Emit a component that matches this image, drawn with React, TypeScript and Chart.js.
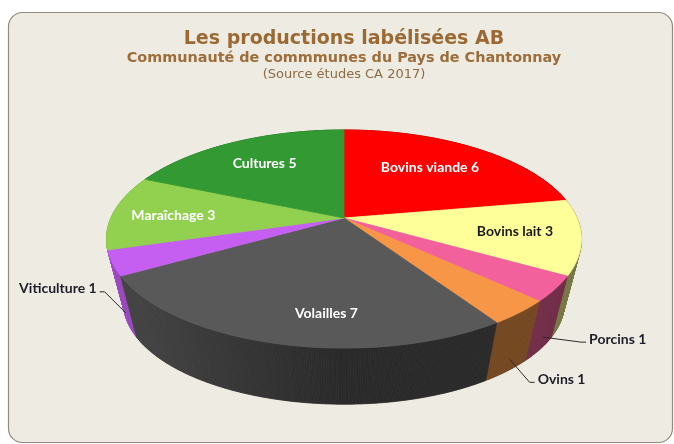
import { useEffect, useRef } from "react";
import { Chart, registerables } from "chart.js";

Chart.register(...registerables);

// ---- Data ----
const CATEGORIES = ["Bovins viande", "Bovins lait", "Porcins", "Ovins", "Volailles", "Viticulture", "Maraîchage", "Cultures"];
const VALUES = [6, 3, 1, 1, 7, 1, 3, 5];
const COLORS = ["#ff0000", "#ffff99", "#f2619c", "#f79646", "#595959", "#c55ff2", "#92d050", "#339933"];

const TITLE = "Les productions labélisées AB";
const SUBTITLE = "Communauté de commmunes du Pays de Chantonnay";
const SOURCE = "(Source études CA 2017)";

// ---- Layout / style constants ----
const W = 674;
const H = 444;
const PROJ = { kx: 1.069, ky: 0.4817, persp: 0.193, vanish: 4.17, depth: 0.072 };
const LABEL_RADIUS = 0.72;
const LABEL_NUDGE: [number, number][] = [[-8, 0], [0, 0], [0, 0], [0, 0], [30, 5], [0, 0], [-5, 2], [0, 0]];
const LEADER_OFFSET: [number, number][] = [[0, 0], [0, 0], [38, 5], [20, 23], [0, 0], [-21, -21], [0, 0], [0, 0]];
const OUTSIDE_SHARE = 0.05;

function hexToRgb(hex: string): [number, number, number] {
  const h = hex.replace("#", "");
  return [parseInt(h.slice(0, 2), 16), parseInt(h.slice(2, 4), 16), parseInt(h.slice(4, 6), 16)];
}
function shade(hex: string, f: number) {
  const [r, g, b] = hexToRgb(hex);
  return `rgb(${Math.round(r * f)},${Math.round(g * f)},${Math.round(b * f)})`;
}
function isLight(hex: string) {
  const [r, g, b] = hexToRgb(hex);
  return 0.299 * r + 0.587 * g + 0.114 * b > 180;
}

const pie3d = {
  id: "pie3d",
  beforeDraw(chart: any) {
    const ctx = chart.ctx as CanvasRenderingContext2D;
    ctx.save();
    ctx.fillStyle = "#ffffff";
    ctx.fillRect(0, 0, W, H);
    const x0 = 8.5, y0 = 12.5, x1 = 672.5, y1 = 442.5, r = 14;
    ctx.beginPath();
    ctx.moveTo(x0 + r, y0);
    ctx.lineTo(x1 - r, y0);
    ctx.arcTo(x1, y0, x1, y0 + r, r);
    ctx.lineTo(x1, y1 - r);
    ctx.arcTo(x1, y1, x1 - r, y1, r);
    ctx.lineTo(x0 + r, y1);
    ctx.arcTo(x0, y1, x0, y1 - r, r);
    ctx.lineTo(x0, y0 + r);
    ctx.arcTo(x0, y0, x0 + r, y0, r);
    ctx.closePath();
    ctx.fillStyle = "#eeebe2";
    ctx.fill();
    ctx.strokeStyle = "#948a7c";
    ctx.lineWidth = 1.2;
    ctx.stroke();
    ctx.restore();
  },
  beforeDatasetsDraw(chart: any) {
    const ctx = chart.ctx as CanvasRenderingContext2D;
    const meta = chart.getDatasetMeta(0);
    const arcs = meta.data as any[];
    if (!arcs.length) return false;
    const cx = arcs[0].x;
    const cy = arcs[0].y;
    const R = arcs[0].outerRadius;
    const A = R * PROJ.kx;
    const B = R * PROJ.ky;
    const p = PROJ.persp;
    const vx = cx;
    const vy = cy + PROJ.vanish * R;
    const t = PROJ.depth;

    const top = (a: number, f = 1): [number, number] => {
      const u = Math.cos(a), v = Math.sin(a);
      const s = 1 / (1 - p * v);
      return [cx + A * u * s * f, cy + B * v * s * f];
    };
    const bottom = (a: number): [number, number] => {
      const [x, y] = top(a);
      return [vx + (x - vx) * (1 - t), vy + (y - vy) * (1 - t)];
    };

    const step = Math.PI / 360;
    // walls
    const pieces: { a1: number; a2: number; i: number }[] = [];
    arcs.forEach((arc: any, i: number) => {
      const s0 = arc.startAngle, e0 = arc.endAngle;
      const n = Math.max(1, Math.ceil((e0 - s0) / step));
      for (let k = 0; k < n; k++) {
        pieces.push({ a1: s0 + ((e0 - s0) * k) / n, a2: s0 + ((e0 - s0) * (k + 1)) / n, i });
      }
    });
    pieces.sort((a, b) => Math.sin((a.a1 + a.a2) / 2) - Math.sin((b.a1 + b.a2) / 2));
    ctx.save();
    for (const pc of pieces) {
      const m = (pc.a1 + pc.a2) / 2;
      const u = Math.cos(m);
      const f = 0.47 + 0.35 * Math.max(0, -u);
      const col = shade(COLORS[pc.i], f);
      const p1 = top(pc.a1), p2 = top(pc.a2), q2 = bottom(pc.a2), q1 = bottom(pc.a1);
      ctx.beginPath();
      ctx.moveTo(p1[0], p1[1]);
      ctx.lineTo(p2[0], p2[1]);
      ctx.lineTo(q2[0], q2[1]);
      ctx.lineTo(q1[0], q1[1]);
      ctx.closePath();
      ctx.fillStyle = col;
      ctx.strokeStyle = col;
      ctx.lineWidth = 0.8;
      ctx.fill();
      ctx.stroke();
    }
    // top faces
    arcs.forEach((arc: any, i: number) => {
      const s0 = arc.startAngle, e0 = arc.endAngle;
      const n = Math.max(2, Math.ceil((e0 - s0) / step));
      ctx.beginPath();
      ctx.moveTo(cx, cy);
      for (let k = 0; k <= n; k++) {
        const [x, y] = top(s0 + ((e0 - s0) * k) / n);
        ctx.lineTo(x, y);
      }
      ctx.closePath();
      ctx.fillStyle = COLORS[i];
      ctx.strokeStyle = COLORS[i];
      ctx.lineWidth = 0.8;
      ctx.lineJoin = "round";
      ctx.fill();
      ctx.stroke();
    });

    // labels
    const total = VALUES.reduce((s, v) => s + v, 0);
    ctx.font = "bold 14px Lato, 'Open Sans', sans-serif";
    ctx.textBaseline = "middle";
    arcs.forEach((arc: any, i: number) => {
      const mid = (arc.startAngle + arc.endAngle) / 2;
      const text = `${CATEGORIES[i]} ${VALUES[i]}`;
      if (VALUES[i] / total < OUTSIDE_SHARE) {
        const tp = top(mid);
        const bp = bottom(mid);
        const ax = tp[0] + (bp[0] - tp[0]) * 0.8;
        const ay = tp[1] + (bp[1] - tp[1]) * 0.8;
        const [dx, dy] = LEADER_OFFSET[i];
        const ex = ax + dx, ey = ay + dy;
        const dir = dx >= 0 ? 1 : -1;
        const hx = ex + dir * 5;
        ctx.beginPath();
        ctx.moveTo(ax, ay);
        ctx.lineTo(ex, ey);
        ctx.lineTo(hx, ey);
        ctx.strokeStyle = "#2b2b2b";
        ctx.lineWidth = 1;
        ctx.stroke();
        ctx.fillStyle = "#1e1e2a";
        ctx.textAlign = dir > 0 ? "left" : "right";
        ctx.fillText(text, hx + dir * 3, ey - 3);
      } else {
        const [rx, ry] = top(mid);
        const lx = cx + (rx - cx) * LABEL_RADIUS + LABEL_NUDGE[i][0];
        const ly = cy + (ry - cy) * LABEL_RADIUS + LABEL_NUDGE[i][1];
        ctx.fillStyle = isLight(COLORS[i]) ? "#1a1a1a" : "#ffffff";
        ctx.textAlign = "center";
        ctx.fillText(text, lx, ly);
      }
    });
    ctx.restore();
    return false;
  },
  afterDraw(chart: any) {
    const ctx = chart.ctx as CanvasRenderingContext2D;
    ctx.save();
    ctx.textAlign = "center";
    ctx.textBaseline = "middle";
    ctx.fillStyle = "#9a6934";
    ctx.font = "bold 19px 'DejaVu Sans', sans-serif";
    ctx.fillText(TITLE, 344, 39);
    ctx.fillStyle = "#9d6d3a";
    ctx.font = "bold 14.4px 'DejaVu Sans', sans-serif";
    ctx.fillText(SUBTITLE, 344, 58);
    ctx.fillStyle = "#8f6a42";
    ctx.font = "13px 'DejaVu Sans', sans-serif";
    ctx.fillText(SOURCE, 344, 75);
    ctx.restore();
  },
};

export default function App() {
  const ref = useRef<HTMLCanvasElement | null>(null);
  useEffect(() => {
    if (!ref.current) return;
    const chart = new Chart(ref.current, {
      type: "pie",
      data: {
        labels: CATEGORIES,
        datasets: [{ data: VALUES, backgroundColor: COLORS, borderWidth: 0 }],
      },
      options: {
        animation: false,
        responsive: false,
        events: [],
        layout: { padding: { left: 14, right: 0, top: 0, bottom: 8 } },
        plugins: {
          legend: { display: false },
          tooltip: { enabled: false },
          title: { display: false },
        },
      },
      plugins: [pie3d as any],
    });
    return () => chart.destroy();
  }, []);
  return (
    <div style={{ position: "absolute", left: 0, top: 0, width: W, height: H, background: "#ffffff" }}>
      <canvas ref={ref} width={W} height={H} style={{ display: "block", width: W, height: H }} />
    </div>
  );
}
